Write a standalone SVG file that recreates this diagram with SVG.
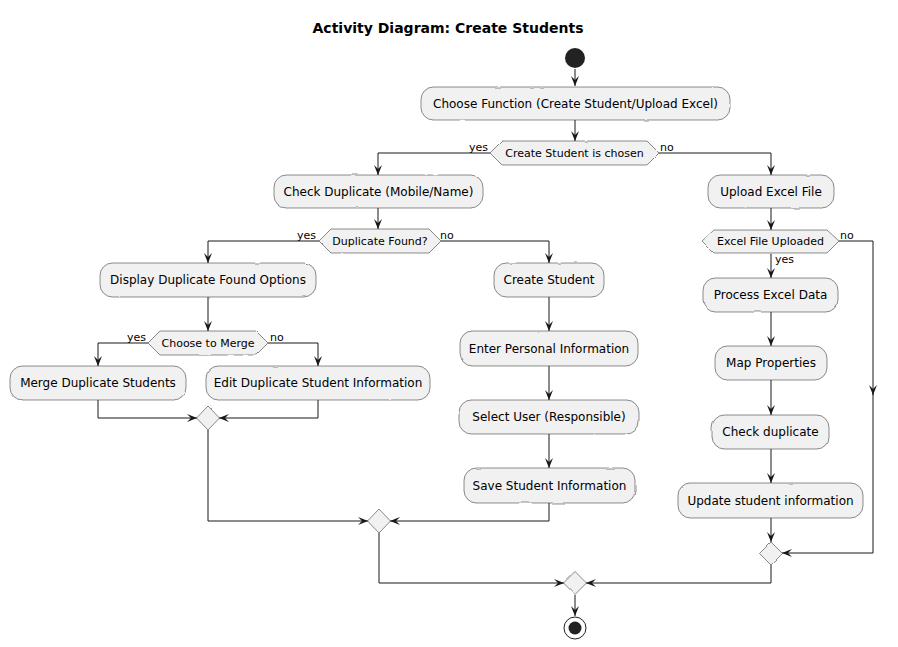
<svg xmlns="http://www.w3.org/2000/svg" width="898" height="647" viewBox="0 0 898 647">
<style>
.box{fill:#F1F1F1;stroke:#181818;stroke-width:0.5}
.hex{fill:#F1F1F1;stroke:#181818;stroke-width:0.5}
.t{font-family:"DejaVu Sans","Liberation Sans",sans-serif;font-size:12px;fill:#000;text-anchor:middle}
.ht{font-family:"DejaVu Sans","Liberation Sans",sans-serif;font-size:11px;fill:#000;text-anchor:middle}
.lb{font-family:"DejaVu Sans","Liberation Sans",sans-serif;font-size:11px;fill:#000}
.title{font-family:"DejaVu Sans","Liberation Sans",sans-serif;font-size:14px;font-weight:bold;fill:#000;text-anchor:middle}
.ca{fill:none;stroke:#181818;stroke-width:1;marker-end:url(#arr)}
</style>
<defs>
<marker id="arr" viewBox="0 0 10 8" refX="10" refY="4" markerWidth="10" markerHeight="8" markerUnits="userSpaceOnUse" orient="auto">
<path d="M0,0 L10,4 L0,8 L4,4 Z" fill="#181818"/>
</marker>
<filter id="wob" filterUnits="userSpaceOnUse" x="0" y="0" width="898" height="647">
<feTurbulence type="fractalNoise" baseFrequency="0.06" numOctaves="2" seed="3" result="n"/>
<feDisplacementMap in="SourceGraphic" in2="n" scale="2" xChannelSelector="R" yChannelSelector="G"/>
</filter>
</defs>
<rect width="898" height="647" fill="#FFFFFF"/>
<text class="title" x="448" y="33">Activity Diagram: Create Students</text>

<g id="connectors">
<path class="ca" d="M575,69 V86"/>
<path class="ca" d="M575,120 V141"/>
<path class="ca" d="M490,153 H378 V175"/>
<path class="ca" d="M659,153 H771 V175"/>
<path class="ca" d="M378,208 V229"/>
<path class="ca" d="M319,241 H208 V263"/>
<path class="ca" d="M441,241 H549 V263"/>
<path class="ca" d="M208,297 V331"/>
<path class="ca" d="M148,343 H98 V366"/>
<path class="ca" d="M268,343 H318 V366"/>
<path class="ca" d="M98,400 V418 H197"/>
<path class="ca" d="M318,400 V418 H219"/>
<path class="ca" d="M208,430 V521 H368"/>
<path class="ca" d="M549,297 V331"/>
<path class="ca" d="M549,366 V400"/>
<path class="ca" d="M549,434 V468"/>
<path class="ca" d="M549,503 V521 H390"/>
<path class="ca" d="M379,533 V583 H564"/>
<path class="ca" d="M771,208 V230"/>
<path class="ca" d="M771,253 V278"/>
<path class="ca" d="M771,312 V346"/>
<path class="ca" d="M771,380 V415"/>
<path class="ca" d="M771,449 V483"/>
<path class="ca" d="M771,518 V542"/>
<path class="ca" d="M839,241 H873 V395"/>
<path class="ca" d="M873,393 V553 H782"/>
<path class="ca" d="M771,565 V583 H586"/>
<path class="ca" d="M575,595 V616"/>
</g>
<g id="edge-labels">
<text class="lb" x="469" y="151">yes</text>
<text class="lb" x="660" y="151">no</text>
<text class="lb" x="297" y="239">yes</text>
<text class="lb" x="440" y="239">no</text>
<text class="lb" x="127" y="341">yes</text>
<text class="lb" x="270" y="341">no</text>
<text class="lb" x="840" y="239">no</text>
<text class="lb" x="775" y="263">yes</text>
</g>

<g id="start"><circle cx="575" cy="58" r="10" fill="#222222"/></g>
<g id="n-choose"><rect class="box" x="421" y="87" width="309" height="33" rx="12.5" filter="url(#wob)"/><text class="t" x="575.5" y="108">Choose Function (Create Student/Upload Excel)</text></g>
<g id="d-create"><polygon class="hex" points="490,153 502,141 647,141 659,153 647,165 502,165" filter="url(#wob)"/><text class="ht" x="574.5" y="157">Create Student is chosen</text></g>
<g id="n-checkdup"><rect class="box" x="274" y="175" width="209" height="33" rx="12.5" filter="url(#wob)"/><text class="t" x="378.5" y="196">Check Duplicate (Mobile/Name)</text></g>
<g id="n-upload"><rect class="box" x="708" y="175" width="126" height="33" rx="12.5" filter="url(#wob)"/><text class="t" x="771" y="196">Upload Excel File</text></g>
<g id="d-dupfound"><polygon class="hex" points="319,241 331,229 429,229 441,241 429,253 331,253" filter="url(#wob)"/><text class="ht" x="380" y="245">Duplicate Found?</text></g>
<g id="d-excel"><polygon class="hex" points="702,241 714,230 827,230 839,241 827,253 714,253" filter="url(#wob)"/><text class="ht" x="770.5" y="245">Excel File Uploaded</text></g>
<g id="n-display"><rect class="box" x="100" y="263" width="216" height="34" rx="12.5" filter="url(#wob)"/><text class="t" x="208" y="284">Display Duplicate Found Options</text></g>
<g id="n-create"><rect class="box" x="494" y="263" width="110" height="34" rx="12.5" filter="url(#wob)"/><text class="t" x="549" y="284">Create Student</text></g>
<g id="n-process"><rect class="box" x="703" y="278" width="135" height="34" rx="12.5" filter="url(#wob)"/><text class="t" x="770.5" y="299">Process Excel Data</text></g>
<g id="d-merge"><polygon class="hex" points="148,343 160,331 256,331 268,343 256,355 160,355" filter="url(#wob)"/><text class="ht" x="208" y="347">Choose to Merge</text></g>
<g id="n-enter"><rect class="box" x="460" y="331" width="178" height="35" rx="12.5" filter="url(#wob)"/><text class="t" x="549" y="352.5">Enter Personal Information</text></g>
<g id="n-map"><rect class="box" x="715" y="346" width="112" height="34" rx="12.5" filter="url(#wob)"/><text class="t" x="771" y="367">Map Properties</text></g>
<g id="n-mergedup"><rect class="box" x="10" y="366" width="176" height="34" rx="12.5" filter="url(#wob)"/><text class="t" x="98" y="387">Merge Duplicate Students</text></g>
<g id="n-edit"><rect class="box" x="206" y="366" width="224" height="34" rx="12.5" filter="url(#wob)"/><text class="t" x="318" y="387">Edit Duplicate Student Information</text></g>
<g id="n-select"><rect class="box" x="459" y="400" width="180" height="34" rx="12.5" filter="url(#wob)"/><text class="t" x="549" y="421">Select User (Responsible)</text></g>
<g id="n-checkdup2"><rect class="box" x="712" y="415" width="117" height="34" rx="12.5" filter="url(#wob)"/><text class="t" x="770.5" y="436">Check duplicate</text></g>
<g id="m-1"><polygon class="hex" points="208,406 219.5,418 208,430 196.5,418" filter="url(#wob)"/></g>
<g id="n-save"><rect class="box" x="464" y="468" width="171" height="35" rx="12.5" filter="url(#wob)"/><text class="t" x="549.5" y="489.5">Save Student Information</text></g>
<g id="n-update"><rect class="box" x="678" y="483" width="185" height="35" rx="12.5" filter="url(#wob)"/><text class="t" x="770.5" y="504.5">Update student information</text></g>
<g id="m-2"><polygon class="hex" points="379,509 390.5,521 379,533 367.5,521" filter="url(#wob)"/></g>
<g id="m-4"><polygon class="hex" points="771,542 782.5,553.5 771,565 759.5,553.5" filter="url(#wob)"/></g>
<g id="m-3"><polygon class="hex" points="575,571.5 586.5,583 575,594.5 563.5,583" filter="url(#wob)"/></g>
<g id="end"><circle cx="575" cy="628" r="11" fill="none" stroke="#222222" stroke-width="1"/><circle cx="575" cy="628" r="6.5" fill="#222222"/></g>
</svg>
